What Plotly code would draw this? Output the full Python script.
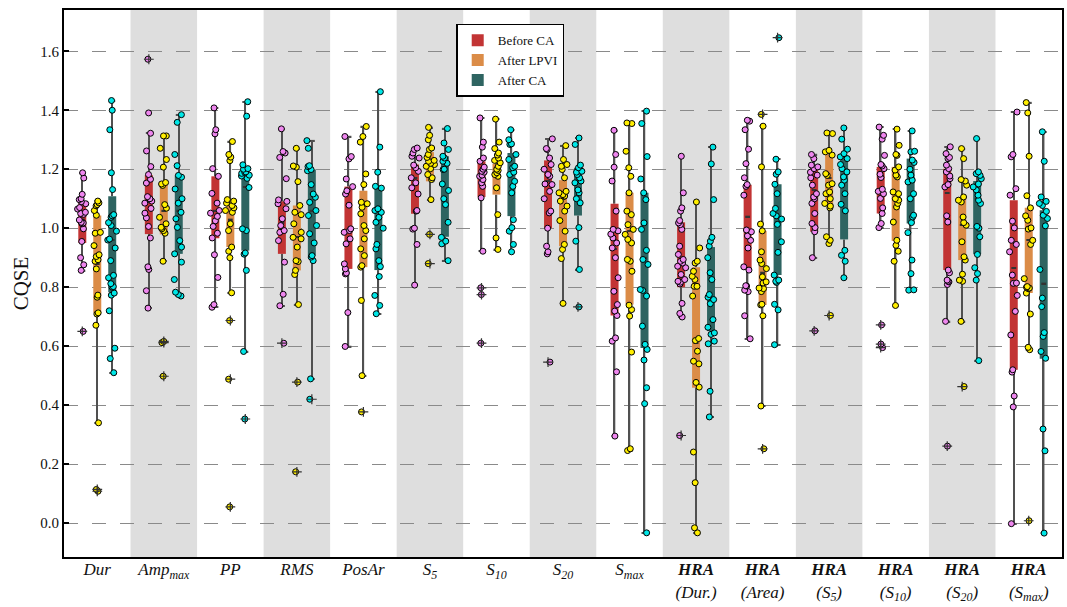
import numpy as np
import plotly.graph_objects as go

CATEGORIES = [
    "<i>Dur</i>", "<i>Amp<sub>max</sub></i>", "<i>PP</i>", "<i>RMS</i>", "<i>PosAr</i>",
    "<i>S<sub>5</sub></i>", "<i>S<sub>10</sub></i>", "<i>S<sub>20</sub></i>", "<i>S<sub>max</sub></i>",
    "<b><i>HRA</i></b><br><i>(Dur.)</i>", "<b><i>HRA</i></b><br><i>(Area)</i>",
    "<b><i>HRA</i></b><br><i>(S<sub>5</sub>)</i>", "<b><i>HRA</i></b><br><i>(S<sub>10</sub>)</i>",
    "<b><i>HRA</i></b><br><i>(S<sub>20</sub>)</i>", "<b><i>HRA</i></b><br><i>(S<sub>max</sub>)</i>",
]
Y_TICKS = [0.0, 0.2, 0.4, 0.6, 0.8, 1.0, 1.2, 1.4, 1.6]

# ---------------- Before CA ----------------
BEFORE_Q1 = [0.95, 0.98, 0.966, 0.913, 0.862, 1.049, 1.106, 1.0, 0.704, 0.80, 0.858, 0.988, 1.05, 0.858, 0.52]
BEFORE_MED = [1.03, 1.09, 1.06, 1.02, 0.99, 1.17, 1.17, 1.16, 0.93, 0.89, 1.04, 1.13, 1.17, 1.12, 0.866]
BEFORE_Q3 = [1.09, 1.18, 1.176, 1.091, 1.141, 1.216, 1.227, 1.23, 1.083, 1.02, 1.147, 1.208, 1.208, 1.202, 1.095]
BEFORE_LO = [0.857, 0.729, 0.732, 0.737, 0.599, 0.807, 0.922, 0.913, 0.295, 0.699, 0.625, 0.9, 1.002, 0.684, -0.002]
BEFORE_HI = [1.188, 1.322, 1.408, 1.337, 1.311, 1.272, 1.374, 1.303, 1.332, 1.244, 1.366, 1.25, 1.343, 1.276, 1.394]
BEFORE_OUT = [[0.65], [1.573], [], [0.61], [], [], [0.798, 0.775, 0.61], [0.546], [], [0.297], [], [0.652],
              [0.672, 0.607, 0.595], [0.261], []]
BEFORE_PTS = [
    [1.188, 1.17, 1.115, 1.10, 1.097, 1.09, 1.083, 1.07, 1.065, 1.054, 1.05, 1.047, 1.028, 1.02, 1.018, 1.015, 0.998, 0.955, 0.90, 0.876, 0.857, 0.65],
    [1.573, 1.391, 1.322, 1.262, 1.209, 1.182, 1.166, 1.153, 1.107, 1.10, 1.092, 1.085, 1.067, 1.051, 1.035, 1.006, 0.967, 0.869, 0.86, 0.788, 0.729],
    [1.408, 1.334, 1.32, 1.202, 1.176, 1.118, 1.085, 1.06, 1.051, 1.04, 1.025, 1.006, 0.983, 0.967, 0.91, 0.833, 0.741, 0.732],
    [1.337, 1.26, 1.255, 1.24, 1.168, 1.096, 1.091, 1.083, 1.066, 1.032, 1.009, 0.992, 0.986, 0.958, 0.885, 0.776, 0.737, 0.61],
    [1.311, 1.243, 1.235, 1.167, 1.141, 1.127, 1.116, 1.078, 0.998, 0.992, 0.986, 0.964, 0.947, 0.879, 0.862, 0.848, 0.845, 0.714, 0.599],
    [1.272, 1.267, 1.255, 1.244, 1.238, 1.214, 1.205, 1.193, 1.171, 1.154, 1.137, 1.116, 1.06, 1.058, 1.0, 0.997, 0.945, 0.807],
    [1.374, 1.292, 1.275, 1.238, 1.227, 1.207, 1.2, 1.193, 1.19, 1.18, 1.176, 1.165, 1.154, 1.142, 1.103, 0.922, 0.798, 0.775, 0.61],
    [1.303, 1.27, 1.267, 1.238, 1.216, 1.2, 1.182, 1.176, 1.15, 1.148, 1.125, 1.1, 1.058, 1.052, 1.0, 0.939, 0.92, 0.913, 0.546],
    [1.332, 1.25, 1.207, 1.16, 1.058, 0.996, 0.991, 0.98, 0.967, 0.95, 0.933, 0.9, 0.832, 0.786, 0.741, 0.719, 0.704, 0.628, 0.617, 0.513, 0.295],
    [1.244, 1.12, 1.069, 1.058, 1.026, 1.018, 1.012, 0.996, 0.939, 0.911, 0.894, 0.888, 0.882, 0.871, 0.866, 0.843, 0.826, 0.817, 0.82, 0.811, 0.745, 0.711, 0.699, 0.297],
    [1.366, 1.363, 1.334, 1.268, 1.219, 1.171, 1.148, 1.142, 1.112, 0.994, 0.988, 0.974, 0.959, 0.933, 0.869, 0.858, 0.805, 0.79, 0.804, 0.785, 0.703, 0.625],
    [1.25, 1.236, 1.214, 1.208, 1.202, 1.19, 1.18, 1.171, 1.146, 1.117, 1.106, 1.1, 1.084, 1.05, 1.016, 1.002, 0.988, 0.9, 0.652],
    [1.343, 1.315, 1.302, 1.247, 1.216, 1.211, 1.202, 1.183, 1.172, 1.132, 1.125, 1.117, 1.101, 1.069, 1.05, 1.016, 1.002, 0.672, 0.607, 0.595],
    [1.276, 1.253, 1.24, 1.236, 1.214, 1.202, 1.191, 1.177, 1.168, 1.148, 1.14, 1.042, 1.021, 0.858, 0.849, 0.824, 0.818, 0.809, 0.82, 0.684, 0.261],
    [1.394, 1.25, 1.242, 1.134, 1.112, 1.024, 1.001, 0.959, 0.945, 0.92, 0.841, 0.813, 0.814, 0.772, 0.718, 0.638, 0.52, 0.512, 0.431, 0.394, -0.002],
]

# ---------------- After LPVI ----------------
LPVI_Q1 = [0.713, 0.979, 0.936, 0.857, 0.868, 1.159, 1.114, 0.939, 0.741, 0.459, 0.74, 1.075, 0.957, 0.892, 0.78]
LPVI_MED = [0.88, 1.06, 1.03, 0.97, 1.01, 1.22, 1.19, 1.10, 0.99, 0.61, 0.85, 1.17, 1.12, 1.01, 0.96]
LPVI_Q3 = [1.043, 1.156, 1.092, 1.077, 1.127, 1.258, 1.218, 1.163, 1.12, 0.868, 0.991, 1.25, 1.208, 1.106, 1.069]
LPVI_LO = [0.34, 0.888, 0.781, 0.741, 0.5, 1.097, 0.928, 0.745, 0.246, -0.033, 0.397, 0.968, 0.738, 0.684, 0.588]
LPVI_HI = [1.092, 1.313, 1.294, 1.271, 1.345, 1.342, 1.37, 1.28, 1.357, 1.089, 1.346, 1.323, 1.336, 1.27, 1.426]
LPVI_OUT = [[0.114, 0.108], [0.616, 0.612, 0.498], [0.687, 0.488, 0.055], [0.478, 0.174], [0.377], [0.979, 0.88],
            [], [], [], [], [1.386, 0.252], [0.704], [], [0.463], [0.008]]
LPVI_PTS = [
    [1.092, 1.086, 1.08, 1.076, 1.06, 1.044, 0.986, 0.983, 0.941, 0.91, 0.904, 0.893, 0.888, 0.862, 0.773, 0.766, 0.713, 0.709, 0.671, 0.34, 0.114, 0.108],
    [1.313, 1.313, 1.271, 1.233, 1.207, 1.155, 1.15, 1.145, 1.08, 1.068, 1.037, 1.015, 1.003, 0.998, 0.992, 0.983, 0.888, 0.616, 0.612, 0.498],
    [1.294, 1.25, 1.241, 1.229, 1.097, 1.092, 1.085, 1.077, 1.069, 1.06, 1.054, 1.015, 0.992, 0.936, 0.922, 0.90, 0.781, 0.687, 0.488, 0.055],
    [1.271, 1.211, 1.207, 1.158, 1.077, 1.054, 1.046, 1.015, 0.986, 0.969, 0.964, 0.936, 0.89, 0.887, 0.857, 0.843, 0.741, 0.478, 0.174],
    [1.345, 1.311, 1.292, 1.184, 1.148, 1.088, 1.083, 1.071, 1.049, 1.009, 0.992, 0.964, 0.93, 0.907, 0.873, 0.868, 0.755, 0.5, 0.377],
    [1.342, 1.315, 1.3, 1.272, 1.267, 1.25, 1.24, 1.23, 1.227, 1.22, 1.216, 1.21, 1.202, 1.182, 1.171, 1.165, 1.097, 0.979, 0.88],
    [1.37, 1.292, 1.27, 1.255, 1.248, 1.238, 1.23, 1.222, 1.21, 1.2, 1.196, 1.188, 1.182, 1.176, 1.137, 1.046, 0.967, 0.928],
    [1.28, 1.233, 1.216, 1.21, 1.199, 1.171, 1.125, 1.12, 1.114, 1.109, 1.092, 1.075, 1.058, 1.026, 0.99, 0.945, 0.928, 0.897, 0.745],
    [1.357, 1.355, 1.261, 1.205, 1.176, 1.12, 1.058, 1.046, 1.012, 0.996, 0.979, 0.962, 0.95, 0.894, 0.888, 0.854, 0.739, 0.724, 0.702, 0.58, 0.252, 0.246],
    [1.089, 0.933, 0.888, 0.882, 0.854, 0.837, 0.826, 0.803, 0.803, 0.77, 0.626, 0.619, 0.583, 0.549, 0.54, 0.477, 0.461, 0.241, 0.137, -0.016, -0.033],
    [1.386, 1.346, 1.208, 1.014, 0.991, 0.92, 0.892, 0.88, 0.863, 0.835, 0.818, 0.795, 0.814, 0.797, 0.785, 0.742, 0.74, 0.703, 0.397, 0.252],
    [1.323, 1.321, 1.264, 1.259, 1.248, 1.185, 1.179, 1.151, 1.146, 1.123, 1.117, 1.1, 1.084, 1.075, 1.069, 0.971, 0.959, 0.948, 0.704],
    [1.336, 1.281, 1.25, 1.247, 1.208, 1.197, 1.18, 1.174, 1.123, 1.117, 1.1, 1.095, 1.084, 1.072, 1.021, 0.959, 0.942, 0.922, 0.888, 0.738],
    [1.27, 1.236, 1.165, 1.16, 1.146, 1.106, 1.095, 1.089, 1.038, 1.019, 1.01, 0.954, 0.903, 0.892, 0.844, 0.824, 0.82, 0.684, 0.463],
    [1.426, 1.391, 1.244, 1.11, 1.069, 1.042, 1.027, 1.001, 0.997, 0.959, 0.945, 0.829, 0.8, 0.795, 0.802, 0.797, 0.78, 0.709, 0.596, 0.588, 0.008],
]

# ---------------- After CA ----------------
AFTER_Q1 = [0.783, 0.913, 0.924, 0.907, 0.858, 0.971, 1.041, 1.043, 0.594, 0.651, 0.841, 0.962, 1.016, 0.912, 0.557]
AFTER_MED = [0.96, 1.06, 1.14, 1.06, 1.04, 1.20, 1.18, 1.17, 0.90, 0.76, 1.04, 1.17, 1.16, 1.10, 0.813]
AFTER_Q3 = [1.108, 1.179, 1.191, 1.199, 1.142, 1.244, 1.255, 1.205, 1.12, 0.936, 1.149, 1.247, 1.236, 1.16, 1.061]
AFTER_LO = [0.51, 0.77, 0.582, 0.489, 0.71, 0.89, 0.92, 0.86, -0.033, 0.36, 0.605, 0.832, 0.791, 0.551, -0.034]
AFTER_HI = [1.433, 1.385, 1.429, 1.297, 1.463, 1.338, 1.334, 1.306, 1.397, 1.275, 1.234, 1.34, 1.33, 1.304, 1.327]
AFTER_OUT = [[], [], [0.353], [0.42], [], [], [], [0.733], [], [], [1.646], [], [], [], []]
AFTER_PTS = [
    [1.433, 1.40, 1.334, 1.188, 1.131, 1.046, 1.042, 1.037, 1.019, 1.009, 0.99, 0.963, 0.96, 0.933, 0.89, 0.84, 0.832, 0.812, 0.802, 0.8, 0.78, 0.773, 0.72, 0.593, 0.558, 0.51],
    [1.385, 1.359, 1.25, 1.212, 1.179, 1.173, 1.133, 1.10, 1.085, 1.054, 1.032, 1.003, 0.958, 0.936, 0.913, 0.885, 0.826, 0.783, 0.775, 0.77],
    [1.429, 1.38, 1.215, 1.202, 1.2, 1.191, 1.19, 1.186, 1.18, 1.177, 1.169, 1.138, 0.998, 0.992, 0.916, 0.912, 0.857, 0.582, 0.353],
    [1.297, 1.271, 1.212, 1.209, 1.199, 1.195, 1.148, 1.116, 1.105, 1.088, 1.06, 1.043, 1.009, 0.981, 0.95, 0.907, 0.902, 0.89, 0.489, 0.42],
    [1.463, 1.275, 1.19, 1.142, 1.136, 1.066, 1.06, 1.054, 1.037, 1.02, 1.0, 0.945, 0.93, 0.89, 0.87, 0.836, 0.772, 0.738, 0.71],
    [1.338, 1.289, 1.267, 1.244, 1.238, 1.227, 1.22, 1.2, 1.199, 1.15, 1.128, 1.1, 1.08, 1.02, 0.969, 0.956, 0.947, 0.89],
    [1.334, 1.3, 1.286, 1.284, 1.25, 1.233, 1.21, 1.205, 1.19, 1.182, 1.159, 1.142, 1.12, 1.029, 1.002, 0.99, 0.945, 0.92],
    [1.306, 1.284, 1.214, 1.205, 1.193, 1.19, 1.182, 1.171, 1.16, 1.154, 1.13, 1.12, 1.1, 1.086, 1.002, 0.956, 0.86, 0.733],
    [1.397, 1.355, 1.243, 1.167, 1.12, 1.097, 1.018, 0.996, 0.925, 0.894, 0.877, 0.792, 0.789, 0.77, 0.668, 0.606, 0.589, 0.553, 0.459, 0.405, -0.033],
    [1.275, 1.218, 1.097, 0.969, 0.956, 0.939, 0.9, 0.849, 0.826, 0.775, 0.766, 0.758, 0.744, 0.69, 0.664, 0.645, 0.64, 0.617, 0.608, 0.447, 0.36],
    [1.646, 1.234, 1.191, 1.183, 1.149, 1.117, 1.067, 1.05, 1.042, 1.031, 1.013, 0.954, 0.918, 0.841, 0.824, 0.816, 0.82, 0.742, 0.723, 0.605],
    [1.34, 1.302, 1.268, 1.253, 1.242, 1.236, 1.216, 1.202, 1.191, 1.174, 1.163, 1.146, 1.117, 1.081, 1.059, 0.925, 0.908, 0.888, 0.832],
    [1.33, 1.261, 1.259, 1.231, 1.223, 1.2, 1.18, 1.163, 1.157, 1.117, 1.1, 1.044, 1.038, 1.019, 0.985, 0.892, 0.846, 0.79, 0.791],
    [1.304, 1.191, 1.185, 1.179, 1.168, 1.15, 1.14, 1.13, 1.112, 1.095, 1.084, 1.006, 1.0, 0.971, 0.911, 0.866, 0.846, 0.824, 0.551],
    [1.327, 1.227, 1.106, 1.091, 1.084, 1.077, 1.057, 1.044, 1.033, 1.008, 0.86, 0.763, 0.734, 0.646, 0.633, 0.582, 0.559, 0.319, 0.245, -0.034],
]

SERIES = [
    ("Before CA", BEFORE_Q1, BEFORE_MED, BEFORE_Q3, BEFORE_LO, BEFORE_HI, BEFORE_OUT, BEFORE_PTS),
    ("After LPVI", LPVI_Q1, LPVI_MED, LPVI_Q3, LPVI_LO, LPVI_HI, LPVI_OUT, LPVI_PTS),
    ("After CA", AFTER_Q1, AFTER_MED, AFTER_Q3, AFTER_LO, AFTER_HI, AFTER_OUT, AFTER_PTS),
]
BOX_COLORS = ["#c23434", "#db8c47", "#2e6461"]
PT_COLORS = ["#ee86ee", "#ffee00", "#00e6e6"]
OFFSETS = [-0.225, 0.0, 0.225]

FONT = "Liberation Serif, Times New Roman, serif"
WHISK = "#505050"
BOX_W = 0.12
CAP_W = 0.09
CAP_H = 0.005

fig = go.Figure()
n = len(CATEGORIES)
idx = np.arange(n)

# background bands
shapes = []
for i in range(1, n, 2):
    shapes.append(dict(type="rect", xref="x", yref="paper", x0=i - 0.5, x1=i + 0.5, y0=0, y1=1,
                       fillcolor="#dedede", line=dict(width=0), layer="below"))

for s, (name, q1, med, q3, lo, hi, outs, pts) in enumerate(SERIES):
    q1 = np.array(q1); med = np.array(med); q3 = np.array(q3)
    lo = np.array(lo); hi = np.array(hi)
    xs = idx + OFFSETS[s]
    # whiskers (bars so they stay beneath the points)
    fig.add_trace(go.Bar(x=np.concatenate([xs, xs]), base=np.concatenate([q3, lo]),
                         y=np.concatenate([hi - q3, q1 - lo]), width=0.022,
                         marker=dict(color=WHISK, line=dict(width=0)), showlegend=False, hoverinfo="skip"))
    # caps
    fig.add_trace(go.Bar(x=np.concatenate([xs, xs]), base=np.concatenate([hi, lo]) - CAP_H / 2,
                         y=[CAP_H] * (2 * n), width=CAP_W,
                         marker=dict(color=WHISK, line=dict(width=0)), showlegend=False, hoverinfo="skip"))
    # boxes
    fig.add_trace(go.Bar(x=xs, base=q1, y=q3 - q1, width=BOX_W, name=name,
                         marker=dict(color=BOX_COLORS[s], line=dict(width=0)), hoverinfo="skip"))
    # medians
    fig.add_trace(go.Bar(x=xs, base=med - CAP_H / 2, y=[CAP_H] * n, width=BOX_W * 0.6,
                         marker=dict(color="#333333", line=dict(width=0)), showlegend=False, hoverinfo="skip"))

for s, (name, q1, med, q3, lo, hi, outs, pts) in enumerate(SERIES):
    xs = idx + OFFSETS[s]
    px, py = [], []
    for i, vals in enumerate(pts):
        px += [xs[i]] * len(vals)
        py += list(vals)
    fig.add_trace(go.Box(x=px, y=py, boxpoints="all", jitter=0.75, pointpos=0, width=0.2,
                         fillcolor="rgba(0,0,0,0)", line=dict(width=0, color="rgba(0,0,0,0)"),
                         marker=dict(color=PT_COLORS[s], size=6, line=dict(color="black", width=1)),
                         showlegend=False, hoverinfo="skip"))

for s, (name, q1, med, q3, lo, hi, outs, pts) in enumerate(SERIES):
    xs = idx + OFFSETS[s]
    ox, oy = [], []
    for i, vals in enumerate(outs):
        ox += [xs[i]] * len(vals)
        oy += list(vals)
    fig.add_trace(go.Scatter(x=ox, y=oy, mode="markers",
                             marker=dict(symbol="cross-thin", size=7, line=dict(color="#333333", width=1.2)),
                             showlegend=False, hoverinfo="skip"))

fig.update_layout(
    width=1067, height=607, autosize=False,
    margin=dict(l=64, r=5, t=10, b=50, autoexpand=False),
    paper_bgcolor="white", plot_bgcolor="white",
    barmode="overlay", boxmode="overlay",
    shapes=shapes,
    font=dict(family=FONT, color="#111111"),
    legend=dict(x=0.393, y=0.975, xanchor="left", yanchor="top", bgcolor="white",
                bordercolor="black", borderwidth=1.5, font=dict(family=FONT, size=13, color="#111111"),
                tracegroupgap=0, itemwidth=30),
    showlegend=True,
)
fig.update_xaxes(range=[-0.5, n - 0.5], tickmode="array", tickvals=list(idx), ticktext=CATEGORIES,
                 showgrid=False, zeroline=False, showline=True, mirror=True, linecolor="black", linewidth=2,
                 ticks="", automargin=False, ticklabelstandoff=-4,
                 tickfont=dict(family=FONT, size=17, color="#111111"))
fig.update_yaxes(range=[-0.115, 1.74], tickmode="array", tickvals=Y_TICKS,
                 ticktext=[f"{v:.1f}" for v in Y_TICKS],
                 showgrid=True, gridcolor="#8a8a8a", gridwidth=1.3, griddash="14px,14px",
                 zeroline=False, showline=True, mirror=True, linecolor="black", linewidth=2,
                 ticks="inside", ticklen=5, tickwidth=1.5, tickcolor="black", automargin=False,
                 tickfont=dict(family=FONT, size=15, color="#111111"),
                 title=dict(text="CQSE", font=dict(family=FONT, size=21, color="#111111"), standoff=6))

fig.write_html("out.html", config={"displayModeBar": False},
               post_script="document.body.style.margin='0px';")
